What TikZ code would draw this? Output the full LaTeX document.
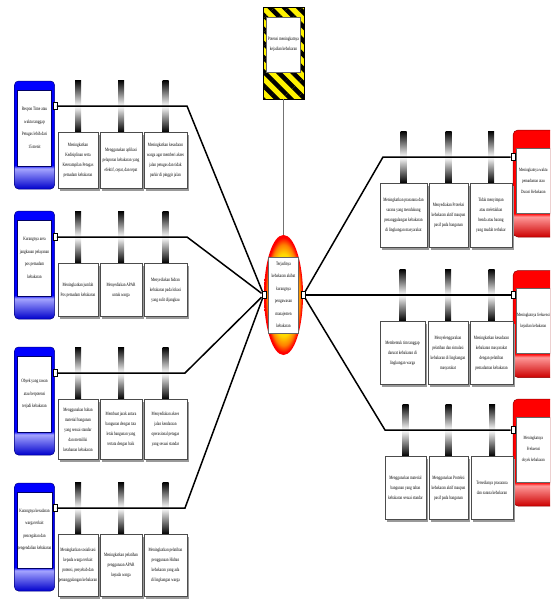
\documentclass[tikz,border=0pt]{standalone}
\usepackage{fontspec}
\newfontfamily\slimfont{Liberation Serif}[FakeStretch=0.7]
\usetikzlibrary{positioning, shapes.geometric, shadows, patterns.meta}

% vertical shadings, listed from bottom to top (25bp = bottom, 75bp = top)
\pgfdeclareverticalshading{causeshade}{100bp}{color(0bp)=(blue!80!black); color(25bp)=(blue!80!black);
  color(34.5bp)=(blue!35); color(36bp)=(blue); color(75bp)=(blue); color(100bp)=(blue)}
\pgfdeclareverticalshading{effectshade}{100bp}{color(0bp)=(red!80!black); color(25bp)=(red!80!black);
  color(34.5bp)=(red!40); color(36bp)=(red); color(75bp)=(red); color(100bp)=(red)}
\pgfdeclareradialshading{hubshade}{\pgfpoint{0bp}{0bp}}{color(0bp)=(yellow); color(17bp)=(yellow!70!orange);
  color(21bp)=(orange); color(24bp)=(red); color(50bp)=(red)}

\tikzset{
  boxfont/.style={font=\slimfont\fontsize{5}{10}\selectfont},
  sign/.style={rectangle, draw=black, fill=yellow, minimum width=41pt, minimum height=92pt,
    postaction={pattern={Lines[angle=-45, distance=10pt, line width=4.5pt]}, pattern color=black}},
  signtext/.style={boxfont, rectangle, draw=black!60, line width=0.3pt, fill=white, align=center,
    minimum width=34pt, minimum height=55pt, inner sep=0.5pt},
  hub/.style={ellipse, minimum width=39pt, minimum height=120pt, inner sep=0pt, shade, shading=hubshade},
  hubtext/.style={font=\slimfont\fontsize{5}{12.5}\selectfont, rectangle, draw=black!60, line width=0.3pt,
    fill=white, align=center, minimum width=30pt, minimum height=76pt, inner sep=0.5pt},
  port/.style={rectangle, draw=black, line width=0.4pt, fill=white, minimum width=4pt, minimum height=7pt, inner sep=0pt},
  causebox/.style={rectangle, rounded corners=4pt, draw=blue!50!black, line width=0.5pt, shade, shading=causeshade,
    minimum width=40pt, minimum height=108pt},
  causetext/.style={font=\slimfont\fontsize{5}{12.5}\selectfont, rectangle, draw=blue!40!black, line width=0.3pt,
    fill=white, align=center, minimum width=34pt, minimum height=76pt, inner sep=0.5pt},
  effectbox/.style={rectangle, rounded corners=5pt, draw=red!55!black, line width=0.5pt, shade, shading=effectshade,
    minimum width=47pt, minimum height=107pt},
  effecttext/.style={font=\slimfont\fontsize{4.8}{11}\selectfont, rectangle, draw=black!60, line width=0.3pt,
    fill=white, align=center, minimum width=34pt, minimum height=65pt, inner sep=0.3pt, anchor=north west},
  rib/.style={rectangle, minimum width=6pt, minimum height=52pt, inner sep=0pt,
    top color=black, bottom color=black, middle color=white},
  solbox/.style={boxfont, rectangle, draw=black!70, line width=0.4pt, fill=white, align=center, inner sep=0.5pt,
    drop shadow={shadow xshift=2pt, shadow yshift=-2.5pt, fill=black!40, opacity=1}},
  branch/.style={draw=black, line width=1.5pt},
  stem/.style={draw=black!55, line width=1pt}
}

\begin{document}
\begin{tikzpicture}[x=1pt, y=-1pt]
  \clip (0,0) rectangle (550,600);

  % warning sign and centre
  \node[sign] (sign) at (283.5,53) {};
  \node[signtext, below=10pt of sign.north] (signtxt) {Potensi meningkatnya\\kejadian kebakaran};
  \node[hub] (hub) at (283.5,295) {};
  \node[hubtext] (hubtxt) at (hub.center) {Terjadinya\\kebakaran akibat\\kurangnya\\pengawasan\\manajemen\\kebakaran};
  \node[port] (hl) at (hub.west) {};
  \node[port] (hr) at (hub.east) {};
  \draw[stem] (sign) -- (hub);

  % bends
  \coordinate (b1) at (187,106);
  \coordinate (b2) at (187,237);
  \coordinate (b3) at (185,373);
  \coordinate (b4) at (185,508);
  \coordinate (e1) at (383,157);
  \coordinate (e3) at (385,430);

  % left 1
  \node[causebox] (c1) at (34.5,135) {};
  \node[causetext, below=9pt of c1.north] (ct1) {Respon Time atau\\waktu tanggap\\Petugas lebih dari\\15 menit};
  \node[port] (p1) at (c1.east |- b1) {};
  \node[rib] (r11) at (78,106) {};
  \node[rib] (r12) at (121,106) {};
  \node[rib] (r13) at (165.5,106) {};
  \node[solbox, minimum width=40pt, minimum height=56pt, below=0pt of r11] (s11) {Meningkatkan\\Kedisiplinan serta\\Keterampilan Petugas\\pemadam kebakaran};
  \node[solbox, minimum width=42pt, minimum height=56pt, below=0pt of r12] (s12) {Menggunakan aplikasi\\pelaporan kebakaran yang\\efektif, cepat, dan tepat};
  \node[solbox, minimum width=43pt, minimum height=56pt, below=0pt of r13] (s13) {Meningkatkan kesadaran\\warga agar memberi akses\\jalan petugas dan tidak\\parkir di pinggir jalan};

  % left 2
  \node[causebox] (c2) at (34.5,265) {};
  \node[causetext, below=9pt of c2.north] (ct2) {Kurangnya area\\jangkauan pelayanan\\pos pemadam\\kebakaran};
  \node[port] (p2) at (c2.east |- b2) {};
  \node[rib] (r21) at (78,237) {};
  \node[rib] (r22) at (121,237) {};
  \node[rib] (r23) at (165.5,237) {};
  \node[solbox, minimum width=40pt, minimum height=53pt, below=0pt of r21] (s21) {Meningkatkan jumlah\\Pos pemadam kebakaran};
  \node[solbox, minimum width=42pt, minimum height=53pt, below=0pt of r22] (s22) {Menyediakan APAR\\untuk warga};
  \node[solbox, minimum width=43pt, minimum height=53pt, below=0pt of r23] (s23) {Menyediakan hidran\\kebakaran pada lokasi\\yang sulit dijangkau};

  % left 3
  \node[causebox] (c3) at (34.5,401) {};
  \node[causetext, below=9pt of c3.north] (ct3) {Obyek yang rawan\\atau berpotensi\\terjadi kebakaran};
  \node[port] (p3) at (c3.east |- b3) {};
  \node[rib] (r31) at (78,373) {};
  \node[rib] (r32) at (121,373) {};
  \node[rib] (r33) at (165.5,373) {};
  \node[solbox, minimum width=40pt, minimum height=60pt, below=0pt of r31] (s31) {Menggunakan bahan\\material bangunan\\yang sesuai standar\\dan memiliki\\ketahanan kebakaran};
  \node[solbox, minimum width=42pt, minimum height=60pt, below=0pt of r32] (s32) {Membuat jarak antara\\bangunan dengan tata\\letak bangunan yang\\tertata dengan baik};
  \node[solbox, minimum width=43pt, minimum height=60pt, below=0pt of r33] (s33) {Menyediakan akses\\jalan kendaraan\\operasional petugas\\yang sesuai standar};

  % left 4
  \node[causebox] (c4) at (34.5,537) {};
  \node[causetext, below=9pt of c4.north] (ct4) {Kurangnya kesadaran\\warga terkait\\pencegahan dan\\pengendalian kebakaran};
  \node[port] (p4) at (c4.east |- b4) {};
  \node[rib] (r41) at (78,508) {};
  \node[rib] (r42) at (121,508) {};
  \node[rib] (r43) at (165.5,508) {};
  \node[solbox, minimum width=40pt, minimum height=62pt, below=0pt of r41] (s41) {Meningkatkan sosialisasi\\kepada warga terkait\\potensi, penyebab dan\\penanggulangan kebakaran};
  \node[solbox, minimum width=42pt, minimum height=62pt, below=0pt of r42] (s42) {Meningkatkan pelatihan\\penggunaan APAR\\kepada warga};
  \node[solbox, minimum width=43pt, minimum height=62pt, below=0pt of r43] (s43) {Meningkatkan pelatihan\\penggunaan Hidran\\kebakaran yang ada\\di lingkungan warga};

  % right 1
  \node[effectbox] (f1) at (536.5,183.5) {};
  \node[effecttext] (ft1) at ([xshift=3.5pt, yshift=-18pt]f1.north west) {Meningkatnya waktu\\pemadaman atau\\Durasi Kebakaran};
  \node[port] (q1) at (f1.west |- e1) {};
  \node[rib] (k11) at (403.5,157) {};
  \node[rib] (k12) at (448.5,157) {};
  \node[rib] (k13) at (491,157) {};
  \node[solbox, minimum width=47pt, minimum height=64pt, below=0pt of k11] (t11) {Meningkatkan prasarana dan\\sarana yang mendukung\\penanggulangan kebakaran\\di lingkungan masyarakat};
  \node[solbox, minimum width=39pt, minimum height=64pt, below=0pt of k12] (t12) {Menyediakan Proteksi\\kebakaran aktif maupun\\pasif pada bangunan};
  \node[solbox, minimum width=42pt, minimum height=64pt, below=0pt of k13] (t13) {Tidak menyimpan\\atau meletakkan\\benda atau barang\\yang mudah terbakar};

  % right 2
  \node[effectbox] (f2) at (536.5,324) {};
  \node[effecttext] (ft2) at ([xshift=3.5pt, yshift=-18pt]f2.north west) {Meningkatnya frekuensi\\kejadian kebakaran};
  \node[port] (q2) at (f2.west |- hr) {};
  \node[rib] (k21) at (402.5,295) {};
  \node[rib] (k22) at (448,295) {};
  \node[rib] (k23) at (491.5,295) {};
  \node[solbox, minimum width=45pt, minimum height=63pt, below=0pt of k21] (t21) {Membentuk tim tanggap\\darurat kebakaran di\\lingkungan warga};
  \node[solbox, minimum width=40pt, minimum height=63pt, below=0pt of k22] (t22) {Menyelenggarakan\\pelatihan dan simulasi\\kebakaran di lingkungan\\masyarakat};
  \node[solbox, minimum width=43pt, minimum height=63pt, below=0pt of k23] (t23) {Meningkatkan kesadaran\\kebakaran masyarakat\\dengan pelatihan\\pemadaman kebakaran};

  % right 3
  \node[effectbox] (f3) at (536.5,452.5) {};
  \node[effecttext] (ft3) at ([xshift=3.5pt, yshift=-18pt]f3.north west) {Meningkatnya\\Frekuensi\\obyek kebakaran};
  \node[port] (q3) at (f3.west |- e3) {};
  \node[rib] (k31) at (405.5,430) {};
  \node[rib] (k32) at (448.5,430) {};
  \node[rib] (k33) at (492,430) {};
  \node[solbox, minimum width=41pt, minimum height=63pt, below=0pt of k31] (t31) {Menggunakan material\\bangunan yang tahan\\kebakaran sesuai standar};
  \node[solbox, minimum width=39pt, minimum height=63pt, below=0pt of k32] (t32) {Menggunakan Proteksi\\kebakaran aktif maupun\\pasif pada bangunan};
  \node[solbox, minimum width=42pt, minimum height=63pt, below=0pt of k33] (t33) {Tersedianya prasarana\\dan sarana kebakaran};

  % connectors
  \draw[branch] (p1) -- (b1) -- (hl);
  \draw[branch] (p2) -- (b2) -- (hl);
  \draw[branch] (p3) -- (b3) -- (hl);
  \draw[branch] (p4) -- (b4) -- (hl);
  \draw[branch] (hr) -- (e1) -- (q1);
  \draw[branch] (hr) -- (q2);
  \draw[branch] (hr) -- (e3) -- (q3);
\end{tikzpicture}
\end{document}
